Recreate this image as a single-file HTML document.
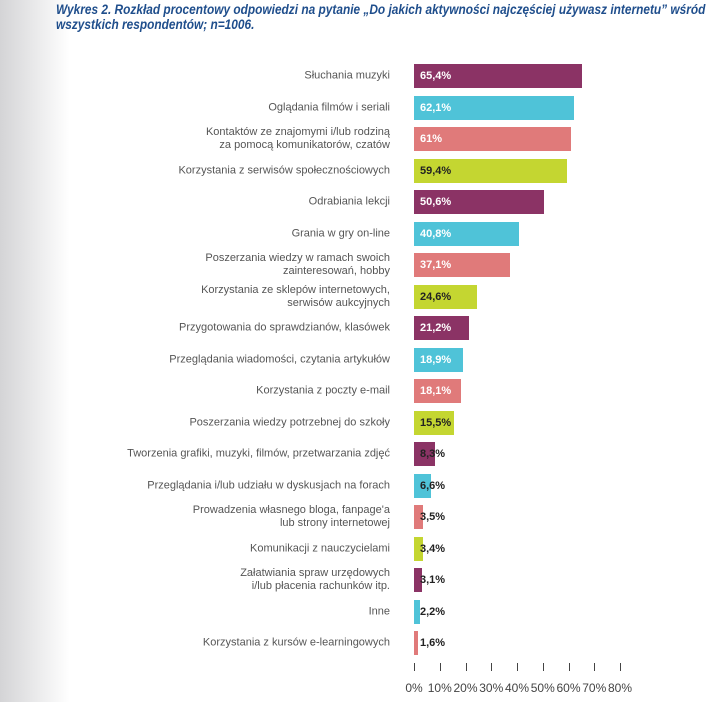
<!DOCTYPE html>
<html><head><meta charset="utf-8"><style>
body{margin:0;width:724px;height:702px;background:#fff;position:relative;overflow:hidden;font-family:"Liberation Sans",sans-serif}
.grad{position:absolute;left:0;top:0;width:70px;height:702px;background:linear-gradient(to right,#d4d4d6,#fff)}
.title{position:absolute;left:56px;top:2px;font-size:13.5px;font-weight:bold;font-style:italic;color:#1f4e8c;line-height:15px;white-space:nowrap;transform:scaleX(0.88);transform-origin:0 0}
.lab{position:absolute;right:334px;font-size:11px;color:#555;text-align:right;line-height:13px;transform:translateY(-50%);white-space:nowrap}
.bar{position:absolute;left:414px;height:24px}
.val{position:absolute;left:420px;font-size:11px;font-weight:bold;line-height:24px}
.tick{position:absolute;top:663px;width:1px;height:8px;background:#444}
.tl{position:absolute;top:681px;font-size:12px;color:#444;width:40px;text-align:center}
</style></head><body>
<div class="grad"></div>
<div class="title">Wykres 2. Rozkład procentowy odpowiedzi na pytanie „Do jakich aktywności najczęściej używasz internetu” wśród<br>wszystkich respondentów; n=1006.</div>
<div id="c"></div>
<script>
var d=[["Słuchania muzyki",65.4,"65,4%"],["Oglądania filmów i seriali",62.1,"62,1%"],["Kontaktów ze znajomymi i/lub rodziną<br>za pomocą komunikatorów, czatów",61,"61%"],["Korzystania z serwisów społecznościowych",59.4,"59,4%"],["Odrabiania lekcji",50.6,"50,6%"],["Grania w gry on-line",40.8,"40,8%"],["Poszerzania wiedzy w ramach swoich<br>zainteresowań, hobby",37.1,"37,1%"],["Korzystania ze sklepów internetowych,<br>serwisów aukcyjnych",24.6,"24,6%"],["Przygotowania do sprawdzianów, klasówek",21.2,"21,2%"],["Przeglądania wiadomości, czytania artykułów",18.9,"18,9%"],["Korzystania z poczty e-mail",18.1,"18,1%"],["Poszerzania wiedzy potrzebnej do szkoły",15.5,"15,5%"],["Tworzenia grafiki, muzyki, filmów, przetwarzania zdjęć",8.3,"8,3%"],["Przeglądania i/lub udziału w dyskusjach na forach",6.6,"6,6%"],["Prowadzenia własnego bloga, fanpage'a<br>lub strony internetowej",3.5,"3,5%"],["Komunikacji z nauczycielami",3.4,"3,4%"],["Załatwiania spraw urzędowych<br>i/lub płacenia rachunków itp.",3.1,"3,1%"],["Inne",2.2,"2,2%"],["Korzystania z kursów e-learningowych",1.6,"1,6%"]];
var cols=["#8b3365","#4fc3d8","#e07a7a","#c4d631"];
var h="";
d.forEach(function(r,i){var y=76+i*31.5,c=cols[i%4];
h+='<div class="lab" style="top:'+y+'px">'+r[0]+'</div>';
h+='<div class="bar" style="top:'+(y-12)+'px;width:'+(r[1]*2.575)+'px;background:'+c+'"></div>';
var tc=(r[1]>=15&&i%4!=3)?"#fff":"#222";
h+='<div class="val" style="top:'+(y-12)+'px;color:'+tc+'">'+r[2]+'</div>';});
for(var k=0;k<=8;k++){var x=414+k*25.75;h+='<div class="tick" style="left:'+x+'px"></div><div class="tl" style="left:'+(x-20)+'px">'+(k*10)+'%</div>';}
document.getElementById("c").innerHTML=h;
</script>
</body></html>
